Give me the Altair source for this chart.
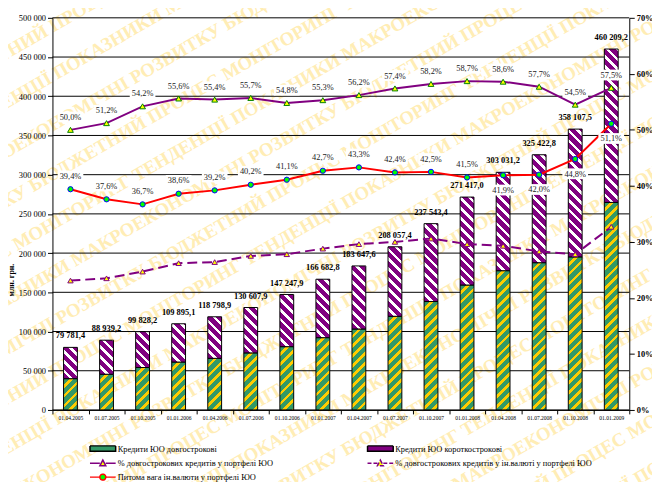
import altair as alt
import pandas as pd

# ---------------- data ----------------
dates = ["01.04.2005", "01.07.2005", "01.10.2005", "01.01.2006", "01.04.2006",
         "01.07.2006", "01.10.2006", "01.01.2007", "01.04.2007", "01.07.2007",
         "01.10.2007", "01.01.2008", "01.04.2008", "01.07.2008", "01.10.2008",
         "01.01.2009"]
totals = [79781.4, 88939.2, 99828.2, 109895.1, 118798.9, 130607.9, 147247.9,
          166682.8, 183647.6, 208057.4, 237543.4, 271417.0, 303031.2, 325422.8,
          358107.5, 460209.2]
long_term = [39890.7, 45536.9, 54106.9, 61101.7, 65814.6, 72748.6, 80691.9,
             92175.6, 103210.0, 119425.0, 138250.3, 159321.8, 177576.3, 187769.0,
             195168.6, 264620.3]
short_term = [39890.7, 43402.3, 45721.3, 48793.4, 52984.3, 57859.3, 66556.0,
              74507.2, 80437.6, 88632.4, 99293.1, 112095.2, 125454.9, 137653.8,
              162938.9, 195588.9]
pct_long = [50.0, 51.2, 54.2, 55.6, 55.4, 55.7, 54.8, 55.3, 56.2, 57.4, 58.2,
            58.7, 58.6, 57.7, 54.5, 57.5]
pct_long_fx = [23.1, 23.5, 24.7, 26.2, 26.4, 27.5, 27.8, 28.8, 29.6, 30.0, 30.6,
               29.6, 29.3, 28.3, 27.8, 32.7]
pct_fx = [39.4, 37.6, 36.7, 38.6, 39.2, 40.2, 41.1, 42.7, 43.3, 42.4, 42.5,
          41.5, 41.9, 42.0, 44.8, 51.1]
left_ticks = [0, 50000, 100000, 150000, 200000, 250000, 300000, 350000, 400000,
              450000, 500000]
right_ticks = [0, 10, 20, 30, 40, 50, 60, 70]
series_names = ["Кредити ЮО довгострокові",
                "Кредити ЮО короткострокові",
                "% довгострокових кредитів у портфелі ЮО",
                "% довгострокових кредитів у ін.валюті у портфелі ЮО",
                "Питома вага ін.валюти у портфелі ЮО"]
watermark_words = ["МОНІТОРИНГ", "ТЕНДЕНЦІЇ", "ПОКАЗНИКИ", "МАКРОЕКОНОМІЧНІ",
                   "РОЗВИТКУ", "БЮДЖЕТНИЙ", "ПРОЦЕС"]

# ---------------- styling ----------------
W, H = 584, 397
YMAX = 500000
BAR_W = 14
SERIF = "Liberation Serif"
GREEN = "#339966"
GOLD = "#FFCC00"
PURPLE = "#800080"
RED = "#FF0000"
YELLOW = "#FFFF00"
LIME = "#00FF00"
WM = "#FFEDB5"


def stripes(w, h, base, stripe, period, frac, kind):
    """Diagonal stripe fill for one bar as a linear gradient (bbox units)."""
    s = w * w + h * h
    a = w * (w + h) / s
    b = h * (w + h) / s
    n = (w + h) / period
    stops = []
    k = 0
    while k / n < 1:
        p0 = k / n
        p1 = min((k + 1 - frac) / n, 1.0)
        p2 = min((k + 1) / n, 1.0)
        stops.append({"offset": round(p0, 5), "color": base})
        stops.append({"offset": round(p1, 5), "color": base})
        if p1 < 1:
            stops.append({"offset": round(p1, 5), "color": stripe})
            stops.append({"offset": round(p2, 5), "color": stripe})
        k += 1
    if kind == "/":
        return {"gradient": "linear", "stops": stops,
                "x1": 0, "y1": 0, "x2": round(a, 5), "y2": round(b, 5)}
    return {"gradient": "linear", "stops": stops,
            "x1": 0, "y1": 1, "x2": round(a, 5), "y2": round(1 - b, 5)}


x_axis = alt.Axis(title=None, labelAngle=0, labelFont=SERIF, labelFontSize=5.6,
                  labelColor="black", tickBand="extent", tickSize=4,
                  tickColor="black", domainColor="black", labelPadding=2,
                  grid=False, zindex=1)
xenc = alt.X("date:N", sort=dates,
             scale=alt.Scale(domain=dates, paddingInner=0, paddingOuter=0),
             axis=x_axis)

left_axis = alt.Axis(title="млн. грн.", values=left_ticks,
                     labelExpr="replace(format(datum.value, ','), ',', ' ')",
                     labelFont=SERIF, labelFontSize=8.5, labelColor="black",
                     tickSize=5, tickColor="black", domainColor="black",
                     grid=False, zindex=1,
                     titleFont=SERIF, titleFontSize=8, titleFontWeight="bold",
                     titleAngle=270, titleX=-37, titleY=265, titleColor="black",
                     labelPadding=2)
yl_scale = alt.Scale(domain=[0, YMAX], nice=False, zero=True)

right_axis = alt.Axis(orient="right", title=None, values=right_ticks,
                      labelExpr="datum.value + '%'", labelFont=SERIF,
                      labelFontSize=8.5, labelFontWeight="bold",
                      labelColor="black", tickSize=5, tickColor="black",
                      domainColor="black", grid=False, labelPadding=2, zindex=1)
yr_scale = alt.Scale(domain=[0, 70], nice=False, zero=True)


def yr(field):
    return alt.Y(f"{field}:Q", scale=yr_scale, axis=right_axis)


# ---------------- watermark (background decoration) ----------------
one = pd.DataFrame({"a": [0]})
wm_layers = []
for j, yc in enumerate(range(-210, 700, 50)):
    words = watermark_words[(2 * j) % 7:] + watermark_words[:(2 * j) % 7]
    line = "  ".join(words + words)
    wm_layers.append(
        alt.Chart(one).mark_text(text=line, angle=330, font=SERIF,
                                 fontWeight="bold", fontSize=19, color=WM,
                                 align="center", baseline="middle")
        .encode(x=alt.value(W / 2), y=alt.value(yc))
    )

# ---------------- gridlines (drawn over the watermark, under the bars) ----------------
grid = (alt.Chart(pd.DataFrame({"v": left_ticks}))
        .mark_rule(color="black", strokeWidth=1)
        .encode(y=alt.Y("v:Q", scale=yl_scale, axis=left_axis)))

# ---------------- bars ----------------
bar_layers = []
for i, d in enumerate(dates):
    lo, hi = 0.0, long_term[i]
    h = (hi - lo) * H / YMAX
    df = pd.DataFrame({"date": [d], "lo": [lo], "hi": [hi]})
    bar_layers.append(
        alt.Chart(df).mark_bar(size=BAR_W, fill=stripes(BAR_W, h, GREEN, GOLD, 10, 0.38, "/"),
                               stroke="black", strokeWidth=1)
        .encode(x=xenc, y=alt.Y("lo:Q", scale=yl_scale, axis=left_axis), y2="hi:Q")
    )
    lo2, hi2 = long_term[i], long_term[i] + short_term[i]
    h2 = (hi2 - lo2) * H / YMAX
    df2 = pd.DataFrame({"date": [d], "lo": [lo2], "hi": [hi2]})
    bar_layers.append(
        alt.Chart(df2).mark_bar(size=BAR_W, fill=stripes(BAR_W, h2, PURPLE, "#FFFFFF", 10, 0.38, "\\"),
                                stroke="black", strokeWidth=1)
        .encode(x=xenc, y=alt.Y("lo:Q", scale=yl_scale, axis=left_axis), y2="hi:Q")
    )

tot_df = pd.DataFrame({"date": dates, "total": totals})
total_labels = (
    alt.Chart(tot_df)
    .transform_calculate(lbl="replace(replace(format(datum.total, ',.1f'), ',', ' '), '.', ',')")
    .mark_text(font=SERIF, fontWeight="bold", fontSize=8.5, color="black",
               baseline="middle", dy=-12)
    .encode(x=xenc, y=alt.Y("total:Q", scale=yl_scale, axis=left_axis), text="lbl:N")
)

bars_group = alt.layer(*wm_layers, grid, *bar_layers, total_labels)

# ---------------- lines ----------------
ldf = pd.DataFrame({"date": dates, "pl": pct_long, "plfx": pct_long_fx,
                    "pfx": pct_fx, "idx": list(range(len(dates)))})
base = alt.Chart(ldf)
lbl_expr = "replace(format(datum.{f}, '.1f'), '.', ',') + '%'"
BOX = "M-1,-0.42H1V0.42H-1Z"

dashed = base.mark_line(color=PURPLE, strokeWidth=2, strokeDash=[10, 5]).encode(x=xenc, y=yr("plfx"))
dashed_pts = base.mark_point(shape="triangle-up", size=30, filled=True, fill=YELLOW,
                             stroke=PURPLE, strokeWidth=1, opacity=1).encode(x=xenc, y=yr("plfx"))
purple = base.mark_line(color=PURPLE, strokeWidth=2).encode(x=xenc, y=yr("pl"))
purple_pts = base.mark_point(shape="triangle-up", size=34, filled=True, fill=YELLOW,
                             stroke="#008000", strokeWidth=1, opacity=1).encode(x=xenc, y=yr("pl"))
red = base.mark_line(color=RED, strokeWidth=2).encode(x=xenc, y=yr("pfx"))
red_pts = base.mark_point(shape="circle", size=28, filled=True, fill=LIME,
                          stroke="#0000FF", strokeWidth=1, opacity=1).encode(x=xenc, y=yr("pfx"))

purple_box = base.mark_point(shape=BOX, size=676, filled=True, fill="white", strokeWidth=0,
                             opacity=1, yOffset=-13).encode(x=xenc, y=yr("pl"))
purple_txt = (base.transform_calculate(lbl=lbl_expr.format(f="pl"))
              .mark_text(font=SERIF, fontSize=8.5, color="#222222", baseline="middle", dy=-13)
              .encode(x=xenc, y=yr("pl"), text="lbl:N"))

red_up = base.transform_filter("datum.idx < 12")
red_dn = base.transform_filter("datum.idx >= 12")
red_box_up = red_up.mark_point(shape=BOX, size=676, filled=True, fill="white", strokeWidth=0,
                               opacity=1, yOffset=-13.5).encode(x=xenc, y=yr("pfx"))
red_box_dn = red_dn.mark_point(shape=BOX, size=676, filled=True, fill="white", strokeWidth=0,
                               opacity=1, yOffset=15).encode(x=xenc, y=yr("pfx"))
red_txt_up = (red_up.transform_calculate(lbl=lbl_expr.format(f="pfx"))
              .mark_text(font=SERIF, fontSize=8.5, color="#222222", baseline="middle", dy=-13.5)
              .encode(x=xenc, y=yr("pfx"), text="lbl:N"))
red_txt_dn = (red_dn.transform_calculate(lbl=lbl_expr.format(f="pfx"))
              .mark_text(font=SERIF, fontSize=8.5, color="#222222", baseline="middle", dy=15)
              .encode(x=xenc, y=yr("pfx"), text="lbl:N"))

# ---------------- legend carrier (no visible marks) ----------------
# symbol size 100 -> path unit = 5 px; swatches span x = -1..4.2 units (26 px)
RECT = "M-1,-0.55H4.2V0.55H-1Z"
TRI = "M-1,0H1.0M2.2,0H4.2M1.6,-0.65L2.2,0.5L1.0,0.5Z"
CIRC = "M-1,0H1.0M2.2,0H4.2M1.0,0A0.6,0.6,0,1,0,2.2,0A0.6,0.6,0,1,0,1.0,0Z"
leg = alt.Legend(title=None, orient="none", legendX=37, legendY=430, columns=2,
                 direction="horizontal", columnPadding=92, rowPadding=2,
                 labelFont=SERIF, labelFontSize=8.5, labelColor="black",
                 labelLimit=400, symbolSize=100, symbolStrokeWidth=1.5,
                 labelOffset=17, padding=0)
sdf = pd.DataFrame({"series": series_names})
carrier = (
    alt.Chart(sdf).transform_filter("false")
    .mark_point(filled=True, opacity=1)
    .encode(
        fill=alt.Fill("series:N", scale=alt.Scale(domain=series_names,
                      range=[GREEN, PURPLE, YELLOW, YELLOW, LIME]), legend=leg),
        stroke=alt.Stroke("series:N", scale=alt.Scale(domain=series_names,
                          range=["black", "black", PURPLE, PURPLE, RED]), legend=leg),
        shape=alt.Shape("series:N", scale=alt.Scale(domain=series_names,
                        range=[RECT, RECT, TRI, TRI, CIRC]), legend=leg),
        strokeDash=alt.StrokeDash("series:N", scale=alt.Scale(domain=series_names,
                                  range=[[1, 0], [1, 0], [1, 0], [4, 2], [1, 0]]), legend=leg),
    )
)

lines_group = alt.layer(dashed, dashed_pts, purple, purple_pts, red, red_pts,
                        purple_box, purple_txt, red_box_up, red_box_dn,
                        red_txt_up, red_txt_dn, carrier)

chart = (
    alt.layer(bars_group, lines_group)
    .resolve_scale(y="independent")
    .properties(width=W, height=H, autosize=alt.AutoSizeParams(type="none"),
                padding={"left": 45, "top": 7, "right": 23, "bottom": 70})
    .configure_view(stroke=None)
)

chart.save("out.html", embed_options={"renderer": "svg", "actions": False})
